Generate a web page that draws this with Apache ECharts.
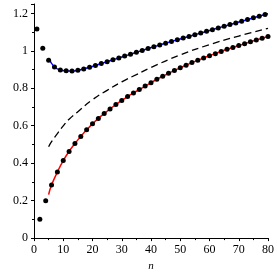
<!DOCTYPE html>
<html><head><meta charset="utf-8">
<script src="https://cdn.jsdelivr.net/npm/echarts@6/dist/echarts.min.js"></script>
<style>html,body{margin:0;padding:0;background:#fff}#c{width:277px;height:277px}</style>
</head><body><div id="c"></div>
<script>
// upper sample points (odd n)
const upperN = [1,3,5,7,9,11,13,15,17,19,21,23,25,27,29,31,33,35,37,39,41,43,45,47,49,51,53,55,57,59,61,63,65,67,69,71,73,75,77,79];
const upperDots = [1.116,1.014,0.949,0.914,0.898,0.893,0.892,0.896,0.903,0.912,0.922,0.932,0.942,0.952,0.962,0.972,0.982,0.992,1.002,1.012,1.022,1.031,1.041,1.050,1.059,1.068,1.077,1.086,1.095,1.104,1.113,1.122,1.131,1.140,1.149,1.158,1.167,1.176,1.185,1.194];
// lower sample points (even n)
const lowerN = [2,4,6,8,10,12,14,16,18,20,22,24,26,28,30,32,34,36,38,40,42,44,46,48,50,52,54,56,58,60,62,64,66,68,70,72,74,76,78,80];
const lowerDots = [0.100,0.200,0.283,0.353,0.414,0.463,0.505,0.543,0.578,0.610,0.639,0.665,0.690,0.713,0.735,0.756,0.775,0.793,0.812,0.830,0.848,0.864,0.880,0.895,0.909,0.923,0.937,0.949,0.962,0.974,0.985,0.997,1.008,1.018,1.028,1.038,1.048,1.058,1.067,1.076];
// blue fitted curve
const blueN = [5,7,9,11,13,15,17,19,21,23,25,27,29,31,33,35,37,39,41,43,45,47,49,51,53,55,57,59,61,63,65,67,69,71,73,75,77,79,80];
const blueFit = [0.962,0.914,0.898,0.893,0.892,0.896,0.903,0.912,0.922,0.932,0.942,0.952,0.962,0.972,0.982,0.992,1.002,1.012,1.022,1.031,1.041,1.050,1.059,1.068,1.077,1.086,1.095,1.104,1.113,1.122,1.131,1.140,1.149,1.158,1.167,1.176,1.185,1.194,1.198];
// red fitted curve
const redN = [5,6,8,10,12,14,16,18,20,22,24,26,28,30,32,34,36,38,40,42,44,46,48,50,52,54,56,58,60,62,64,66,68,70,72,74,76,78,80];
const redFit = [0.232,0.283,0.353,0.414,0.463,0.505,0.543,0.578,0.610,0.639,0.665,0.690,0.713,0.735,0.756,0.775,0.793,0.812,0.830,0.848,0.864,0.880,0.895,0.909,0.923,0.937,0.949,0.962,0.974,0.985,0.997,1.008,1.018,1.028,1.038,1.048,1.058,1.067,1.076];
// dashed curve
const dashN = [5,6,8,10,12,15,20,25,30,35,40,50,60,70,80];
const dashVals = [0.488,0.515,0.558,0.599,0.635,0.675,0.739,0.789,0.834,0.873,0.911,0.978,1.033,1.079,1.120];
const xTicks = [0,10,20,30,40,50,60,70,80];
const yTicks = [0,0.2,0.4,0.6,0.8,1,1.2];

const zip = (a,b) => a.map((v,i)=>[v,b[i]]);
const font = '"Liberation Serif", "Times New Roman", serif';
const chart = echarts.init(document.getElementById('c'), null, {renderer:'canvas'});
chart.setOption({
  animation:false,
  grid:{left:34,right:9,top:4,bottom:35,containLabel:false},
  xAxis:{type:'value',min:xTicks[0],max:xTicks[xTicks.length-1],interval:10,
    name:'n',nameLocation:'middle',nameGap:22,
    nameTextStyle:{fontFamily:font,fontStyle:'italic',fontSize:11,color:'#000'},
    axisLine:{lineStyle:{color:'#000',width:1}},
    axisTick:{inside:false,length:3,lineStyle:{color:'#000'}},
    minorTick:{show:true,splitNumber:2,length:2,lineStyle:{color:'#000'}},
    splitLine:{show:false},
    axisLabel:{fontFamily:font,fontSize:12,color:'#000',margin:6}},
  yAxis:{type:'value',min:0,max:1.25,interval:0.2,
    axisLine:{show:true,lineStyle:{color:'#000',width:1}},
    axisTick:{show:true,inside:false,length:3,lineStyle:{color:'#000'}},
    minorTick:{show:true,splitNumber:2,length:2,lineStyle:{color:'#000'}},
    splitLine:{show:false},
    axisLabel:{fontFamily:font,fontSize:12,color:'#000',margin:6,showMaxLabel:false,
      formatter:v=>yTicks.some(t=>Math.abs(t-v)<1e-9)?String(+v.toFixed(2)):''}},
  series:[
    {type:'line',data:zip(dashN,dashVals),smooth:true,showSymbol:false,
      lineStyle:{color:'#000',width:1.3,type:[7,4]},z:2},
    {type:'line',data:zip(blueN,blueFit),smooth:true,showSymbol:false,
      lineStyle:{color:'#0000ff',width:1.5},z:2},
    {type:'line',data:zip(redN,redFit),smooth:true,showSymbol:false,
      lineStyle:{color:'#ff0000',width:1.5},z:2},
    {type:'scatter',data:zip(upperN,upperDots),symbol:'circle',symbolSize:5,
      itemStyle:{color:'#000',opacity:1},z:3},
    {type:'scatter',data:zip(lowerN,lowerDots),symbol:'circle',symbolSize:5,
      itemStyle:{color:'#000',opacity:1},z:3}
  ]
});
</script></body></html>
